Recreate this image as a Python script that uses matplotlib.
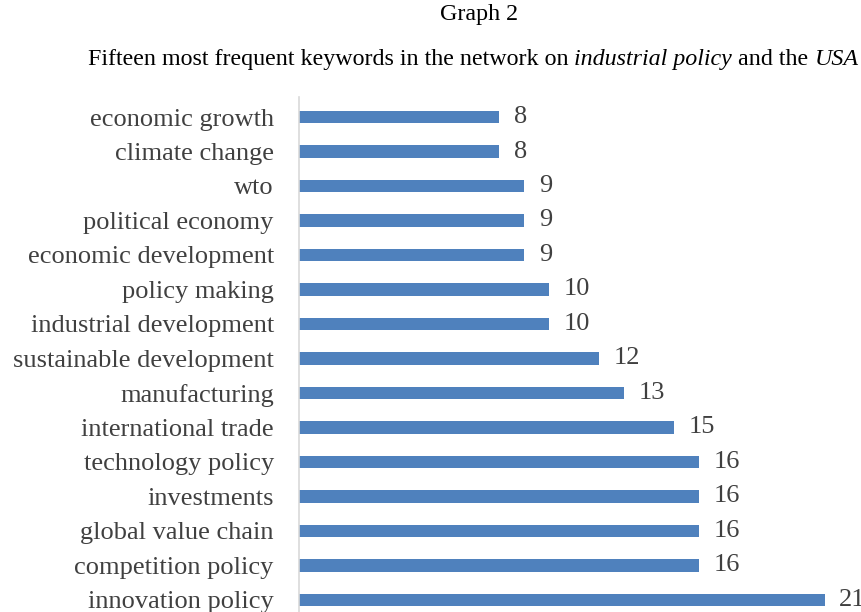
import matplotlib

matplotlib.use("Agg")
import matplotlib.pyplot as plt

keywords = [
    "economic growth",
    "climate change",
    "wto",
    "political economy",
    "economic development",
    "policy making",
    "industrial development",
    "sustainable development",
    "manufacturing",
    "international trade",
    "technology policy",
    "investments",
    "global value chain",
    "competition policy",
    "innovation policy",
]
counts = [8, 8, 9, 9, 9, 10, 10, 12, 13, 15, 16, 16, 16, 16, 21]

title_parts = [
    ("Fifteen most frequent keywords in the network on ", "normal"),
    ("industrial policy", "italic"),
    (" and the ", "normal"),
    ("USA", "italic"),
]

BAR_COLOR = "#4F81BD"
TEXT_COLOR = "#404040"

plt.rcParams["font.family"] = "Liberation Serif"

fig = plt.figure(figsize=(8.61, 6.12), dpi=100)
ax = fig.add_axes([0.347, 0.0, 0.637, 0.8415])

positions = list(range(len(keywords)))
ax.barh(positions, counts, height=0.36, color=BAR_COLOR)

for pos, value in zip(positions, counts):
    ax.annotate(str(value), (value, pos), xytext=(10.5, 0), textcoords="offset points",
                va="center", ha="left", fontsize=19, color=TEXT_COLOR, annotation_clip=False)

ax.set_xlim(0, 21.9)
ax.set_ylim(14.35, -0.58)
ax.set_yticks(positions, keywords)
ax.tick_params(axis="y", length=0, pad=18, labelsize=19, labelcolor=TEXT_COLOR)
ax.set_xticks([])
for side in ("top", "right", "bottom"):
    ax.spines[side].set_visible(False)
ax.spines["left"].set_color("#D9D9D9")
ax.spines["left"].set_linewidth(1.2)

# title: first line plain, second line built from plain/italic pieces laid end to end
fig.text(0.556, 0.977, "Graph 2", ha="center", va="center", fontsize=17.3)

fig.canvas.draw()
renderer = fig.canvas.get_renderer()
x_fig = 0.102
y_fig = 0.894
for text, style in title_parts:
    t = fig.text(x_fig, y_fig, text, ha="left", va="baseline", fontsize=17.3, style=style)
    x_fig = t.get_window_extent(renderer).x1 / fig.bbox.width

fig.savefig("out.png", dpi=100)
